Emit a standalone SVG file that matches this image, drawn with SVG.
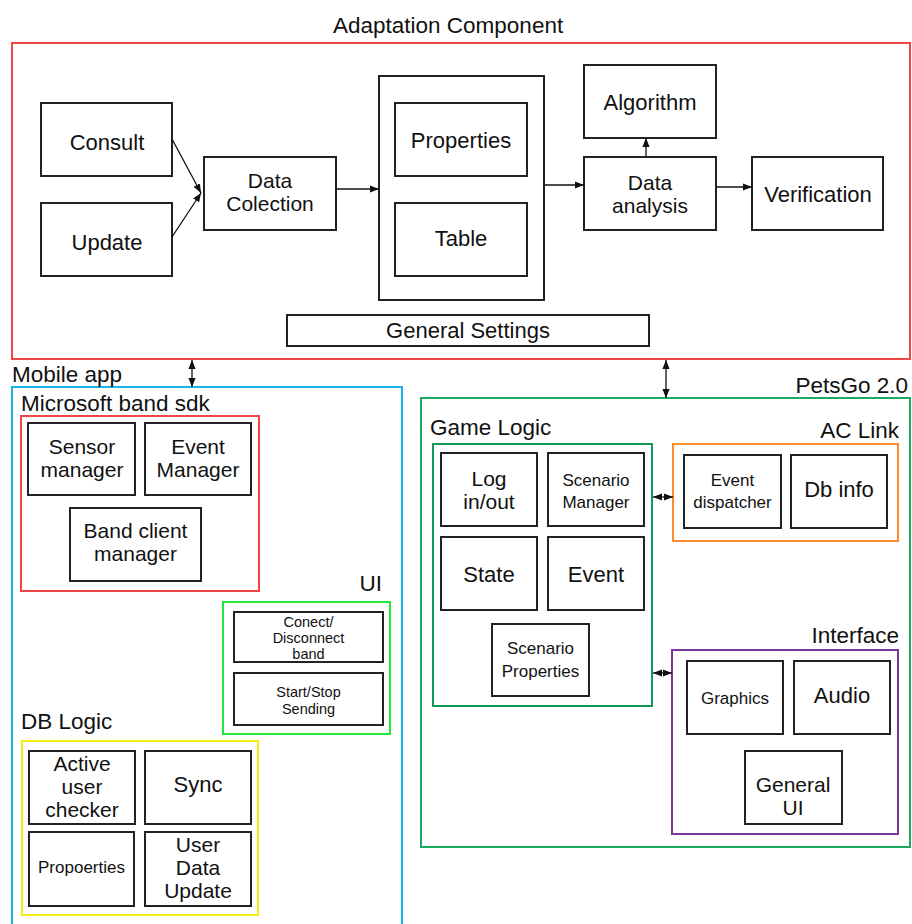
<svg xmlns="http://www.w3.org/2000/svg" width="912" height="924" viewBox="0 0 912 924">
<defs>
<marker id="ah" viewBox="0 0 10 10" refX="10" refY="5" markerWidth="9" markerHeight="9" markerUnits="userSpaceOnUse" orient="auto-start-reverse"><path d="M0,1 L10,5 L0,9 z" fill="#111"/></marker>
</defs>
<style>
text{font-family:"Liberation Sans",Arial,sans-serif;fill:#111}
.t{font-size:22px;text-anchor:middle}
.m{font-size:21px;text-anchor:middle}
.s{font-size:17px;text-anchor:middle}
.xs{font-size:14.5px;text-anchor:middle}
.h{font-size:22.5px}
.r{text-anchor:end}
.b{fill:#fff;stroke:#222;stroke-width:2}
.c{fill:none;stroke-width:2}
.ln{fill:none;stroke:#111;stroke-width:1.3}
</style>
<rect width="912" height="924" fill="#fff"/>

<g id="adaptation-component">
<rect class="c" x="12" y="43" width="898" height="316" stroke="#f24545"/>
<text class="h" x="333" y="33">Adaptation Component</text>
</g>
<g id="consult"><rect class="b" x="41" y="103" width="131" height="73"/><text class="t" x="107" y="150">Consult</text></g>
<g id="update"><rect class="b" x="41" y="203" width="131" height="73"/><text class="t" x="107" y="250">Update</text></g>
<g id="data-colection"><rect class="b" x="204" y="157" width="132" height="73"/><text class="m" x="270" y="188">Data</text><text class="m" x="270" y="211">Colection</text></g>
<g id="storage"><rect class="b" x="379" y="76" width="165" height="224"/></g>
<g id="properties"><rect class="b" x="395" y="103" width="132" height="73"/><text class="t" x="461" y="148">Properties</text></g>
<g id="table"><rect class="b" x="395" y="203" width="132" height="73"/><text class="t" x="461" y="246">Table</text></g>
<g id="general-settings"><rect class="b" x="287" y="315" width="362" height="31"/><text class="t" x="468" y="338">General Settings</text></g>
<g id="algorithm"><rect class="b" x="584" y="65" width="132" height="73"/><text class="t" x="650" y="110">Algorithm</text></g>
<g id="data-analysis"><rect class="b" x="584" y="157" width="132" height="73"/><text class="m" x="650" y="190">Data</text><text class="m" x="650" y="213">analysis</text></g>
<g id="verification"><rect class="b" x="752" y="157" width="131" height="73"/><text class="t" x="818" y="202">Verification</text></g>

<g id="mobile-app">
<rect class="c" x="12" y="387" width="390" height="545" stroke="#1ab4ea"/>
<text class="h" x="12" y="382">Mobile app</text>
</g>
<g id="microsoft-band-sdk">
<rect class="c" x="21" y="416" width="238" height="175" stroke="#f24545"/>
<text class="h" x="21" y="411">Microsoft band sdk</text>
</g>
<g id="sensor-manager"><rect class="b" x="28" y="423" width="107" height="72"/><text class="m" x="82" y="454">Sensor</text><text class="m" x="82" y="477">manager</text></g>
<g id="event-manager"><rect class="b" x="145" y="423" width="106" height="72"/><text class="m" x="198" y="454">Event</text><text class="m" x="198" y="477">Manager</text></g>
<g id="band-client-manager"><rect class="b" x="70" y="508" width="131" height="73"/><text class="m" x="135.5" y="538">Band client</text><text class="m" x="135.5" y="561">manager</text></g>

<g id="ui">
<rect class="c" x="223" y="602" width="167" height="132" stroke="#22e83a"/>
<text class="h r" x="382" y="591">UI</text>
</g>
<g id="connect-disconnect"><rect class="b" x="234" y="612" width="149" height="50"/><text class="xs" x="308.5" y="627">Conect/</text><text class="xs" x="308.5" y="643">Disconnect</text><text class="xs" x="308.5" y="659">band</text></g>
<g id="start-stop"><rect class="b" x="234" y="673" width="149" height="52"/><text class="xs" x="308.5" y="697">Start/Stop</text><text class="xs" x="308.5" y="714">Sending</text></g>

<g id="db-logic">
<rect class="c" x="22" y="741" width="236" height="174" stroke="#f2ee10"/>
<text class="h" x="21" y="729">DB Logic</text>
</g>
<g id="active-user-checker"><rect class="b" x="29" y="751" width="106" height="73"/><text class="m" x="82" y="771">Active</text><text class="m" x="82" y="794">user</text><text class="m" x="82" y="817">checker</text></g>
<g id="sync"><rect class="b" x="145" y="751" width="106" height="73"/><text class="t" x="198" y="792">Sync</text></g>
<g id="propoerties"><rect class="b" x="29" y="832" width="105" height="74"/><text class="s" x="81.5" y="873">Propoerties</text></g>
<g id="user-data-update"><rect class="b" x="145" y="832" width="106" height="74"/><text class="m" x="198" y="852">User</text><text class="m" x="198" y="875">Data</text><text class="m" x="198" y="898">Update</text></g>

<g id="petsgo">
<rect class="c" x="421" y="398" width="489" height="449" stroke="#1aaa60"/>
<text class="h r" x="908" y="393">PetsGo 2.0</text>
</g>
<g id="game-logic">
<rect class="c" x="433" y="444" width="219" height="262" stroke="#12985a"/>
<text class="h" x="430" y="435">Game Logic</text>
</g>
<g id="log-in-out"><rect class="b" x="441" y="453" width="96" height="73"/><text class="m" x="489" y="486">Log</text><text class="m" x="489" y="509">in/out</text></g>
<g id="scenario-manager"><rect class="b" x="548" y="453" width="96" height="73"/><text class="s" x="596" y="486">Scenario</text><text class="s" x="596" y="508">Manager</text></g>
<g id="state"><rect class="b" x="441" y="537" width="96" height="73"/><text class="t" x="489" y="582">State</text></g>
<g id="event"><rect class="b" x="548" y="537" width="96" height="73"/><text class="t" x="596" y="582">Event</text></g>
<g id="scenario-properties"><rect class="b" x="492" y="624" width="97" height="72"/><text class="s" x="540.5" y="654">Scenario</text><text class="s" x="540.5" y="677">Properties</text></g>

<g id="ac-link">
<rect class="c" x="673" y="444" width="225" height="97" stroke="#ff8c2a"/>
<text class="h r" x="899" y="438">AC Link</text>
</g>
<g id="event-dispatcher"><rect class="b" x="684" y="455" width="97" height="73"/><text class="s" x="732.5" y="486">Event</text><text class="s" x="732.5" y="508">dispatcher</text></g>
<g id="db-info"><rect class="b" x="791" y="455" width="96" height="73"/><text class="t" x="839" y="497">Db info</text></g>

<g id="interface">
<rect class="c" x="672" y="650" width="226" height="184" stroke="#7a3596"/>
<text class="h r" x="899" y="643">Interface</text>
</g>
<g id="graphics"><rect class="b" x="687" y="661" width="96" height="73"/><text class="s" x="735" y="704">Graphics</text></g>
<g id="audio"><rect class="b" x="794" y="661" width="96" height="73"/><text class="t" x="842" y="703">Audio</text></g>
<g id="general-ui"><rect class="b" x="745" y="751" width="97" height="73"/><text class="m" x="793" y="792">General</text><text class="m" x="793" y="815">UI</text></g>

<g id="connectors">
<path class="ln" d="M172,139 L201,193" marker-end="url(#ah)"/>
<path class="ln" d="M172,237 L201,193" marker-end="url(#ah)"/>
<path class="ln" d="M336,189 L379,189" marker-end="url(#ah)"/>
<path class="ln" d="M544,185 L584,185" marker-end="url(#ah)"/>
<path class="ln" d="M646,157 L646,138" marker-end="url(#ah)"/>
<path class="ln" d="M716,187 L752,187" marker-end="url(#ah)"/>
<path class="ln" d="M192,360 L192,387" marker-start="url(#ah)" marker-end="url(#ah)"/>
<path class="ln" d="M666,360 L666,398" marker-start="url(#ah)" marker-end="url(#ah)"/>
<path class="ln" d="M653,497 L673,497" marker-start="url(#ah)" marker-end="url(#ah)"/>
<path class="ln" d="M653,673 L672,673" marker-start="url(#ah)" marker-end="url(#ah)"/>
</g>
</svg>
